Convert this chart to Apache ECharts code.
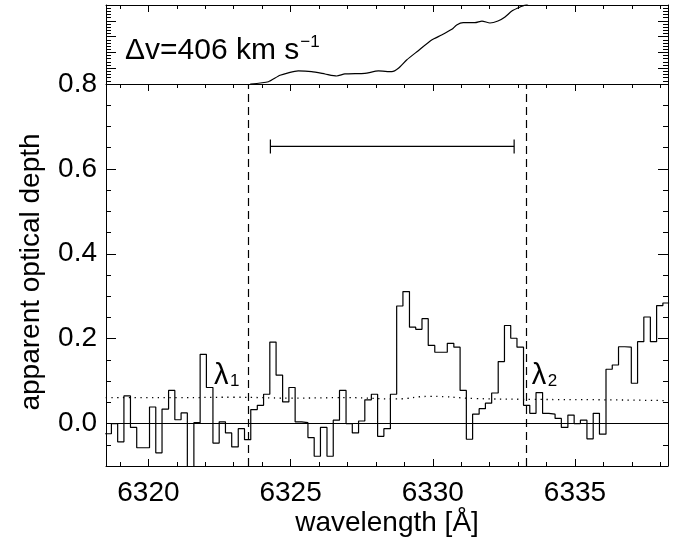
<!DOCTYPE html>
<html>
<head>
<meta charset="utf-8">
<script src="https://cdn.jsdelivr.net/npm/echarts@6/dist/echarts.min.js"></script>
<style>
  html, body { margin: 0; padding: 0; background: #fff; }
  #chart { width: 691px; height: 540px; }
</style>
</head>
<body>
<div id="chart"></div>
<script>
// bin edges of the spectrum (Angstrom), last entry closes the last bin
const binEdges = [
  6318.48, 6318.70, 6318.92, 6319.14, 6319.37, 6319.59, 6319.81, 6320.04, 6320.26, 6320.48,
  6320.71, 6320.93, 6321.15, 6321.37, 6321.60, 6321.82, 6322.04, 6322.27, 6322.49, 6322.71,
  6322.93, 6323.16, 6323.38, 6323.60, 6323.83, 6324.05, 6324.27, 6324.49, 6324.72, 6324.94,
  6325.16, 6325.39, 6325.61, 6325.83, 6326.05, 6326.28, 6326.50, 6326.72, 6326.95, 6327.17,
  6327.39, 6327.61, 6327.84, 6328.06, 6328.28, 6328.51, 6328.73, 6328.95, 6329.18, 6329.40,
  6329.62, 6329.84, 6330.07, 6330.29, 6330.51, 6330.74, 6330.96, 6331.18, 6331.40, 6331.63,
  6331.85, 6332.07, 6332.30, 6332.52, 6332.74, 6332.96, 6333.19, 6333.41, 6333.63, 6333.86,
  6334.08, 6334.30, 6334.52, 6334.75, 6334.97, 6335.19, 6335.42, 6335.64, 6335.86, 6336.09,
  6336.31, 6336.53, 6336.75, 6336.98, 6337.20, 6337.42, 6337.65, 6337.87, 6338.09, 6338.31
]
// apparent optical depth per bin
const tau = [
  -0.024, 0.000, -0.043, 0.065, -0.009, -0.057, -0.057, 0.039, -0.069, 0.034,
  0.078, 0.009, 0.025, -0.150, 0.002, 0.163, 0.085, -0.046, 0.004, -0.022,
  -0.055, -0.012, -0.038, 0.033, 0.043, 0.069, 0.192, 0.114, 0.051, 0.085,
  0.004, 0.002, -0.033, -0.077, -0.009, -0.077, 0.008, 0.078, 0.000, -0.022,
  0.006, 0.056, 0.069, -0.030, -0.012, 0.069, 0.277, 0.311, 0.227, 0.222,
  0.247, 0.184, 0.168, 0.168, 0.189, 0.180, 0.078, -0.037, 0.022, 0.035,
  0.048, 0.072, 0.146, 0.231, 0.201, 0.180, 0.043, 0.024, 0.073, 0.024,
  0.022, 0.012, -0.009, 0.020, 0.000, 0.008, -0.036, 0.024, -0.025, 0.128,
  0.138, 0.181, 0.180, 0.095, 0.193, 0.251, 0.193, 0.278, 0.284
]
// dotted noise level
const noiseWave = [6318.5, 6321.0, 6323.0, 6325.0, 6327.0, 6328.7, 6329.9, 6331.5, 6333.5, 6336.0, 6338.3]
const noiseTau = [0.061, 0.061, 0.062, 0.060, 0.061, 0.058, 0.064, 0.059, 0.057, 0.056, 0.054]
// upper panel curve
const topWave = [6323.58, 6324.22, 6324.63, 6325.27, 6325.74, 6326.21, 6326.62, 6326.91, 6327.61, 6328.09,
  6328.56, 6328.79, 6329.08, 6329.49, 6329.96, 6330.31, 6330.67, 6330.84, 6331.07, 6331.48,
  6331.73, 6332.01, 6332.29, 6332.54, 6332.78, 6333.07, 6333.35]
const topFlux = [0.000, 0.029, 0.110, 0.165, 0.156, 0.127, 0.101, 0.127, 0.135, 0.165,
  0.156, 0.199, 0.304, 0.422, 0.557, 0.620, 0.692, 0.747, 0.776, 0.776,
  0.797, 0.772, 0.797, 0.848, 0.924, 0.975, 1.013]
const lambdaWave = [6323.50, 6333.27]
const lambdaNames = ['1', '2']
const barRange = [6324.29, 6332.86]
const barTau = 0.653
const velText = 'Δv=406 km s'

const FONT = "'Liberation Sans', Helvetica, Arial, sans-serif"
const black = '#000'

const chart = echarts.init(document.getElementById('chart'))

const stepData = binEdges.map((w, i) => [w, tau[Math.min(i, tau.length - 1)]])
const noiseData = noiseWave.map((w, i) => [w, noiseTau[i]])
const topData = topWave.map((w, i) => [w, topFlux[i]])

const xCommon = {
  type: 'value', min: 6318.51, max: 6338.27, splitNumber: 4,
  axisLine: { show: true, onZero: false, lineStyle: { color: black, width: 1 } },
  axisTick: { show: true, inside: true, length: 7, lineStyle: { color: black } },
  minorTick: { show: true, splitNumber: 5, length: 4, lineStyle: { color: black } },
  splitLine: { show: false },
  axisLabel: { show: false }
}
const yTicks = {
  axisLine: { show: true, onZero: false, lineStyle: { color: black, width: 1 } },
  axisTick: { show: true, inside: true, length: 10, lineStyle: { color: black } },
  minorTick: { show: true, length: 5, lineStyle: { color: black } },
  splitLine: { show: false }
}

chart.setOption({
  animation: false,
  grid: [
    { left: 106, right: 23, top: 84, height: 382 },
    { left: 106, right: 23, top: 5, height: 79 }
  ],
  xAxis: [
    Object.assign({}, xCommon, {
      gridIndex: 0, position: 'bottom',
      axisLabel: { show: true, margin: 13, color: black, fontSize: 28, fontFamily: FONT,
        showMinLabel: false, showMaxLabel: false, formatter: v => String(Math.round(v)) }
    }),
    Object.assign({}, xCommon, { gridIndex: 0, position: 'top' }),
    Object.assign({}, xCommon, { gridIndex: 1, position: 'top' })
  ],
  yAxis: [
    Object.assign({}, yTicks, {
      type: 'value', gridIndex: 0, position: 'left', min: -0.1, max: 0.8, splitNumber: 4,
      minorTick: { show: true, splitNumber: 4, length: 5, lineStyle: { color: black } },
      axisLabel: { show: true, margin: 9, color: black, fontSize: 28, fontFamily: FONT,
        showMinLabel: false, showMaxLabel: true, formatter: v => v.toFixed(1) }
    }),
    Object.assign({}, yTicks, {
      type: 'value', gridIndex: 0, position: 'right', min: -0.1, max: 0.8, splitNumber: 4,
      minorTick: { show: true, splitNumber: 4, length: 5, lineStyle: { color: black } },
      axisLabel: { show: false }
    }),
    Object.assign({}, yTicks, {
      type: 'value', gridIndex: 1, position: 'left', min: 0, max: 1, interval: 0.2,
      minorTick: { show: true, splitNumber: 5, length: 5, lineStyle: { color: black } },
      axisLabel: { show: false }
    }),
    Object.assign({}, yTicks, {
      type: 'value', gridIndex: 1, position: 'right', min: 0, max: 1, interval: 0.2,
      minorTick: { show: true, splitNumber: 5, length: 5, lineStyle: { color: black } },
      axisLabel: { show: false }
    })
  ],
  series: [
    {
      type: 'line', xAxisIndex: 0, yAxisIndex: 0, step: 'end', data: stepData,
      symbol: 'none', lineStyle: { color: black, width: 1.2 }, z: 3,
      markLine: {
        silent: true, symbol: ['none', 'none'], label: { show: false },
        data: [
          { yAxis: 0, lineStyle: { type: 'solid', color: black, width: 1.2 } },
          ...lambdaWave.map(w => ({ xAxis: w, lineStyle: { type: [8, 5], color: black, width: 1.2 } }))
        ]
      }
    },
    {
      type: 'line', xAxisIndex: 0, yAxisIndex: 0, data: noiseData, smooth: true,
      symbol: 'none', lineStyle: { color: black, width: 1.3, type: [1.3, 4.5] }
    },
    {
      type: 'custom', xAxisIndex: 0, yAxisIndex: 0,
      data: [[barRange[0], barRange[1], barTau]],
      renderItem: (params, api) => {
        const a = api.coord([api.value(0), api.value(2)])
        const b = api.coord([api.value(1), api.value(2)])
        const h = 7
        const st = { stroke: black, lineWidth: 1.2 }
        return {
          type: 'group', children: [
            { type: 'line', shape: { x1: a[0], y1: a[1], x2: b[0], y2: b[1] }, style: st },
            { type: 'line', shape: { x1: a[0], y1: a[1] - h, x2: a[0], y2: a[1] + h }, style: st },
            { type: 'line', shape: { x1: b[0], y1: b[1] - h, x2: b[0], y2: b[1] + h }, style: st }
          ]
        }
      }
    },
    {
      type: 'line', xAxisIndex: 2, yAxisIndex: 2, data: topData, smooth: 0.2,
      symbol: 'none', lineStyle: { color: black, width: 1.2 }
    }
  ]
})

// width of the velocity text, so the exponent sits right after it
const velFont = '30px ' + FONT
const ctx = document.createElement('canvas').getContext('2d')
ctx.font = velFont
const velWidth = ctx.measureText(velText).width

// text annotations placed from the axis scales
const graphics = [
  { type: 'text', left: 125, top: 36,
    style: { text: velText, font: velFont, fill: black } },
  { type: 'text', left: 125 + velWidth + 1, top: 34,
    style: { text: '−1', font: '17px ' + FONT, fill: black } },
  { type: 'text', x: 387, y: 509,
    style: { text: 'wavelength [Å]', font: '28px ' + FONT, fill: black, textAlign: 'center', textVerticalAlign: 'top' } },
  { type: 'text', x: 31, y: 272, rotation: Math.PI / 2,
    style: { text: 'apparent optical depth', font: '28px ' + FONT, fill: black, textAlign: 'center', textVerticalAlign: 'middle' } }
]
lambdaWave.forEach((w, i) => {
  const p = chart.convertToPixel({ xAxisIndex: 0, yAxisIndex: 0 }, [w, 0])
  const x0 = i === 0 ? p[0] - 34 : p[0] + 6
  graphics.push({ type: 'text', x: x0, y: 361,
    style: { text: 'λ', font: '29px ' + FONT, fill: black, textVerticalAlign: 'top' } })
  graphics.push({ type: 'text', x: x0 + 16, y: 373,
    style: { text: lambdaNames[i], font: '17px ' + FONT, fill: black, textVerticalAlign: 'top' } })
})
chart.setOption({ graphic: graphics })
</script>
</body>
</html>
